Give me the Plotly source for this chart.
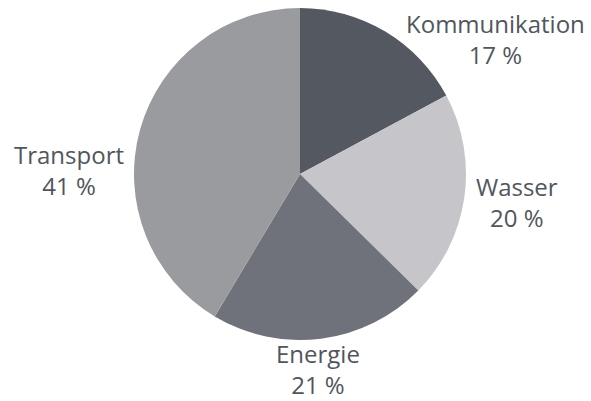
import plotly.graph_objects as go

labels = ["Kommunikation", "Wasser", "Energie", "Transport"]
values = [17, 20, 21, 41]
colors = ["#535861", "#c6c6ca", "#6f727a", "#9a9b9f"]

W, H = 591, 401
cx, cy, r = 300, 174, 166

fig = go.Figure(go.Pie(
    labels=labels, values=values, sort=False, direction="clockwise", rotation=0,
    marker=dict(colors=colors, line=dict(width=0)),
    textinfo="none", hoverinfo="label+value", showlegend=False,
    domain=dict(x=[(cx - r) / W, (cx + r) / W], y=[(H - cy - r) / H, (H - cy + r) / H]),
))

# label placement (pixel centres of the two-line label blocks)
label_pos = [(495, 39), (517, 202), (318, 369), (69, 170)]
for lab, val, (px, py) in zip(labels, values, label_pos):
    fig.add_annotation(
        x=px / W, y=1 - py / H, xref="paper", yref="paper",
        text=f"{lab}<br>{val} %", showarrow=False, borderpad=0,
        font=dict(family="Open Sans", size=24, color="#51565e"),
        xanchor="center", yanchor="middle", align="center",
    )

fig.update_layout(
    width=W, height=H, margin=dict(l=0, r=0, t=0, b=0),
    paper_bgcolor="white", plot_bgcolor="white",
)
fig.write_html("out.html", config={"displayModeBar": False})

# remove default body margin so the figure fills the window exactly
with open("out.html", encoding="utf-8") as f:
    html = f.read()
html = html.replace("<head>", "<head><style>html,body{margin:0;padding:0;overflow:hidden}</style>", 1)
with open("out.html", "w", encoding="utf-8") as f:
    f.write(html)
